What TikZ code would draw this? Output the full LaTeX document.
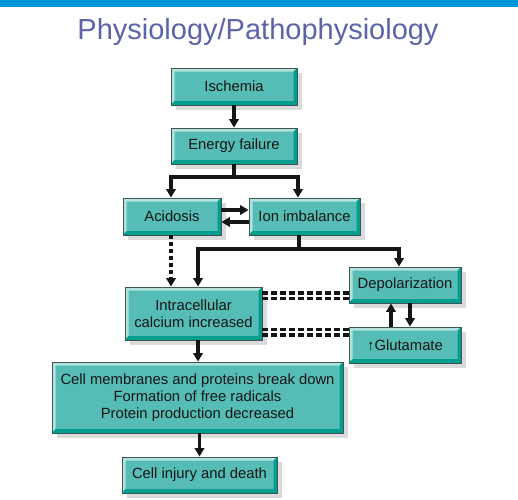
\documentclass[tikz,border=0pt]{standalone}
\usepackage{fontspec}
\setmainfont{Liberation Sans}
\usetikzlibrary{arrows.meta,shadows}
\definecolor{topblue}{HTML}{0095D9}
\definecolor{titlec}{HTML}{5B64A8}
\definecolor{boxface}{HTML}{55BDB5}
\definecolor{bevlight}{HTML}{B2E2DB}
\definecolor{bevdark}{HTML}{009E8E}
\definecolor{boxline}{HTML}{3E5656}
\definecolor{shadowc}{HTML}{DADADA}
\definecolor{textc}{HTML}{151515}
\definecolor{linec}{HTML}{151515}
\tikzset{
  box/.style={draw=boxline, line width=0.9pt, fill=boxface, inner sep=0pt,
    align=center, text=textc, font=\fontsize{14.8}{17}\selectfont,
    drop shadow={shadow xshift=5pt, shadow yshift=-5pt, fill=shadowc, opacity=1},
    path picture={
      \def\ppb{path picture bounding box}
      \fill[bevlight] (\ppb.north west) -- (\ppb.north east) -- ([xshift=-3.5pt,yshift=-3.5pt]\ppb.north east)
        -- ([xshift=3.5pt,yshift=-3.5pt]\ppb.north west) -- ([xshift=3.5pt,yshift=4pt]\ppb.south west) -- (\ppb.south west) -- cycle;
      \fill[bevdark] (\ppb.south east) -- (\ppb.north east) -- ([xshift=-3.5pt,yshift=-3.5pt]\ppb.north east)
        -- ([xshift=-3.5pt,yshift=4pt]\ppb.south east) -- ([xshift=3.5pt,yshift=4pt]\ppb.south west) -- (\ppb.south west) -- cycle;
    }},
  arr/.style={-{Triangle[length=8.5pt,width=9.5pt]}, line width=3.2pt, draw=linec},
  plain/.style={line width=3.2pt, draw=linec},
  darr/.style={-{Triangle[length=8.5pt,width=9.5pt]}, line width=3.6pt, draw=linec, dash pattern=on 4pt off 3pt},
  dline/.style={line width=3.2pt, draw=linec, dash pattern=on 6pt off 3pt}
}
\begin{document}
\begin{tikzpicture}[x=1pt,y=-1pt]
\useasboundingbox (0,0) rectangle (518,499);
\fill[topblue] (0,0) rectangle (518,7);
\node[anchor=base, text=titlec, font=\fontsize{29}{34}\selectfont] (title) at (258,39) {Physiology/Pathophysiology};

\node[box, minimum width=126pt, minimum height=37pt] (isch) at (234,86.5) {Ischemia};
\node[box, minimum width=126pt, minimum height=36pt] (energy) at (234,146) {Energy failure};
\node[box, minimum width=98pt, minimum height=37pt] (acid) at (172,216.5) {Acidosis};
\node[box, minimum width=111pt, minimum height=37pt] (ion) at (304.5,216.5) {Ion imbalance};
\node[box, minimum width=137pt, minimum height=53pt] (intra) at (193.5,313.5) {Intracellular\\calcium increased};
\node[box, minimum width=112pt, minimum height=36pt] (depol) at (405,285) {Depolarization};
\node[box, minimum width=112pt, minimum height=36pt] (glut) at (405,345) {↑Glutamate};
\node[box, minimum width=291pt, minimum height=71pt] (cell) at (197.5,397.5) {Cell membranes and proteins break down\\Formation of free radicals\\Protein production decreased};
\node[box, minimum width=155pt, minimum height=36pt] (death) at (199.5,475) {Cell injury and death};

% Ischemia -> Energy failure
\draw[arr] (isch) -- (energy);
% Energy failure split
\coordinate (split1) at (234,177);
\draw[plain] (energy.south) -- (split1);
\draw[arr] (split1) -| ([xshift=-1pt]acid.north);
\draw[arr] (split1) -| ([xshift=-6.5pt]ion.north);
% Acidosis <-> Ion imbalance
\draw[arr] ([yshift=6.5pt]acid.east) -- ([yshift=6.5pt]ion.west);
\draw[arr] ([yshift=-5.5pt]ion.west) -- ([yshift=-5.5pt]acid.east);
% Ion imbalance split
\coordinate (ionout) at ([xshift=-5.5pt]ion.south);
\coordinate (split2) at (299,249);
\draw[plain] (ionout) -- (split2);
\draw[arr] (split2) -| ([xshift=4.5pt]intra.north);
\draw[arr] (split2) -| ([xshift=-6pt]depol.north);
% Acidosis dashed -> Intracellular
\coordinate (acidout) at ([xshift=-1pt]acid.south);
\draw[darr] (acidout) -- (acidout |- intra.north);
% double dashed lines
\coordinate (dA1) at ([yshift=20.5pt]intra.east);
\coordinate (dA2) at ([yshift=15pt]intra.east);
\coordinate (dB1) at ([yshift=-16pt]intra.east);
\coordinate (dB2) at ([yshift=-21.5pt]intra.east);
\draw[dline] (dA1) -- (dA1 -| depol.west);
\draw[dline] (dA2) -- (dA2 -| depol.west);
\draw[dline] (dB1) -- (dB1 -| glut.west);
\draw[dline] (dB2) -- (dB2 -| glut.west);
% Glutamate <-> Depolarization
\coordinate (gup) at ([xshift=-14pt]glut.north);
\coordinate (gdn) at ([xshift=5pt]depol.south);
\draw[arr] (gup) -- (gup |- depol.south);
\draw[arr] (gdn) -- (gdn |- glut.north);
% Intracellular -> Cell membranes
\coordinate (intraout) at ([xshift=4.5pt]intra.south);
\draw[arr] (intraout) -- (intraout |- cell.north);
% Cell membranes -> Cell injury
\draw[arr] (death.north |- cell.south) -- (death.north);
\end{tikzpicture}
\end{document}
